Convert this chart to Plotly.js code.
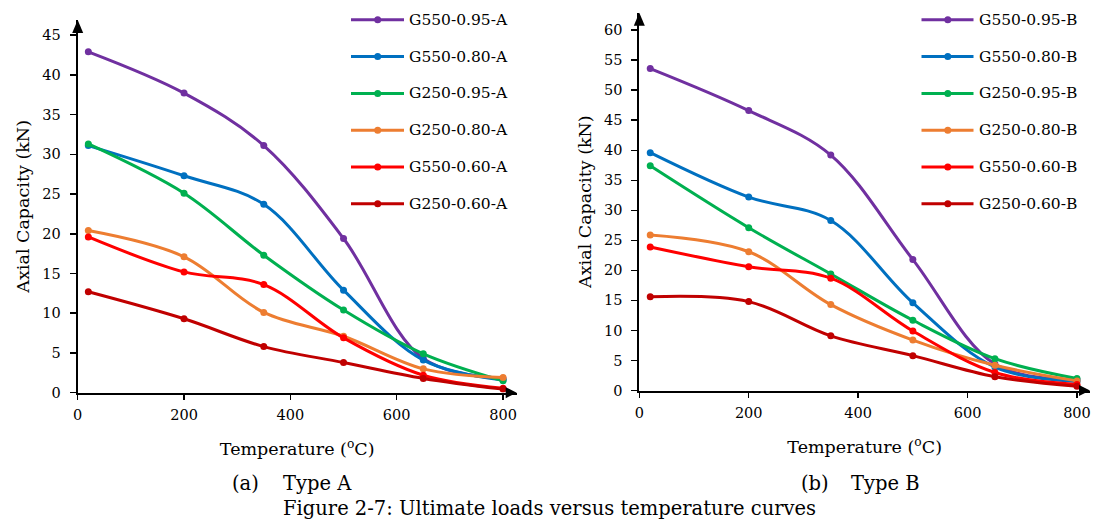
<!DOCTYPE html>
<html><head><meta charset="utf-8">
<script src="https://cdn.plot.ly/plotly-3.0.1.min.js"></script>
<style>html,body{margin:0;padding:0;background:#fff}#chart{width:1094px;height:522px}</style>
</head><body><div id="chart"></div>
<script>
// ---- data ----
const temperatures = [20, 200, 350, 500, 650, 800];

const namesA = ["G550-0.95-A", "G550-0.80-A", "G250-0.95-A", "G250-0.80-A", "G550-0.60-A", "G250-0.60-A"];
const G550_095_A = [42.9, 37.7, 31.1, 19.4, 4.3, 1.8];
const G550_080_A = [31.1, 27.3, 23.7, 12.9, 4.1, 1.6];
const G250_095_A = [31.3, 25.1, 17.3, 10.4, 4.9, 1.5];
const G250_080_A = [20.4, 17.1, 10.1, 7.1, 3.0, 1.9];
const G550_060_A = [19.6, 15.2, 13.6, 6.9, 2.2, 0.55];
const G250_060_A = [12.7, 9.3, 5.8, 3.8, 1.8, 0.45];

const namesB = ["G550-0.95-B", "G550-0.80-B", "G250-0.95-B", "G250-0.80-B", "G550-0.60-B", "G250-0.60-B"];
const G550_095_B = [53.6, 46.6, 39.2, 21.8, 4.4, 1.8];
const G550_080_B = [39.6, 32.2, 28.3, 14.6, 3.9, 1.5];
const G250_095_B = [37.4, 27.1, 19.4, 11.7, 5.3, 2.0];
const G250_080_B = [25.9, 23.1, 14.3, 8.4, 4.2, 1.6];
const G550_060_B = [23.9, 20.6, 18.7, 9.9, 3.0, 1.0];
const G250_060_B = [15.6, 14.8, 9.1, 5.8, 2.3, 0.7];

const seriesColors = ["#7030A0", "#0070C0", "#00B050", "#ED7D31", "#FF0000", "#C00000"];

const xTitle = "Temperature (<sup>o</sup>C)";
const yTitle = "Axial Capacity (kN)";
const captionA = ["(a)", "Type A"];
const captionB = ["(b)", "Type B"];
const figureCaption = "Figure 2-7: Ultimate loads versus temperature curves";

// ---- layout helpers ----
const W = 1094, H = 522;
const px = p => p / W;
const py = p => 1 - p / H;
const FONT = "DejaVu Serif";

const valuesA = [G550_095_A, G550_080_A, G250_095_A, G250_080_A, G550_060_A, G250_060_A];
const valuesB = [G550_095_B, G550_080_B, G250_095_B, G250_080_B, G550_060_B, G250_060_B];

const traces = [];
function addTraces(names, values, xa, ya) {
  names.forEach((n, i) => {
    traces.push({
      type: "scatter", mode: "lines+markers", name: n,
      x: temperatures, y: values[i], xaxis: xa, yaxis: ya,
      line: {color: seriesColors[i], width: 3, shape: "spline", smoothing: 1},
      marker: {color: seriesColors[i], size: 7},
      showlegend: false, hoverinfo: "skip"
    });
  });
}
addTraces(namesA, valuesA, "x", "y");
addTraces(namesB, valuesB, "x2", "y2");

const xdA = [px(77.7), px(516.7)], ydA = [py(392.7), py(20)];
const xdB = [px(639.3), px(1090)], ydB = [py(390.5), py(12.7)];

function xAxis(domain, range, anchor) {
  return {
    domain: domain, range: range, anchor: anchor,
    showline: true, linecolor: "#000", linewidth: 2,
    ticks: "outside", ticklen: 5, tickwidth: 1.5, tickcolor: "#000",
    tick0: 0, dtick: 200, showgrid: false, zeroline: false,
    tickfont: {family: FONT, size: 14.5, color: "#000"},
    ticklabelstandoff: 3,
    title: {text: xTitle, font: {family: FONT, size: 17.5, color: "#000"}, standoff: 21},
    fixedrange: true
  };
}
function yAxis(domain, range, anchor) {
  return {
    domain: domain, range: range, anchor: anchor,
    showline: true, linecolor: "#000", linewidth: 2,
    ticks: "outside", ticklen: 6, tickwidth: 1.5, tickcolor: "#000",
    tick0: 0, dtick: 5, showgrid: false, zeroline: false,
    tickfont: {family: FONT, size: 14.5, color: "#000"},
    ticklabelstandoff: 6,
    title: {text: yTitle, font: {family: FONT, size: 17.5, color: "#000"}, standoff: 8},
    fixedrange: true
  };
}

const shapes = [];
const annotations = [];
function arrows(xd, yd) {
  shapes.push({type: "path", xref: "paper", yref: "paper", xsizemode: "pixel", ysizemode: "pixel",
    xanchor: xd[1], yanchor: yd[0], path: "M0,0 L-11,5.5 L-11,-5.5 Z", fillcolor: "#000", line: {width: 0}});
  shapes.push({type: "path", xref: "paper", yref: "paper", xsizemode: "pixel", ysizemode: "pixel",
    xanchor: xd[0], yanchor: yd[1], path: "M0,0 L-5.5,-13 L5.5,-13 Z", fillcolor: "#000", line: {width: 0}});
}
arrows(xdA, ydA);
arrows(xdB, ydB);

function legend(names, x0, x1, xm, xt) {
  names.forEach((n, i) => {
    const yr = py(19.8 + 36.8 * i);
    shapes.push({type: "line", xref: "paper", yref: "paper", x0: px(x0), x1: px(x1), y0: yr, y1: yr,
      line: {color: seriesColors[i], width: 3}});
    shapes.push({type: "circle", xref: "paper", yref: "paper", xsizemode: "pixel", ysizemode: "pixel",
      xanchor: px(xm), yanchor: yr, x0: -3.5, x1: 3.5, y0: -3.5, y1: 3.5,
      fillcolor: seriesColors[i], line: {width: 0}});
    annotations.push({xref: "paper", yref: "paper", x: px(xt), y: yr, xanchor: "left", yanchor: "middle",
      text: n, showarrow: false, font: {family: FONT, size: 15.5, color: "#000"}});
  });
}
legend(namesA, 351, 404, 377.7, 407);
legend(namesB, 921.5, 973.5, 947.8, 977);

function cap(text, x, y) {
  annotations.push({xref: "paper", yref: "paper", x: px(x), y: py(y), xanchor: "left", yanchor: "middle",
    text: text, showarrow: false, font: {family: FONT, size: 19.5, color: "#000"}});
}
cap(captionA[0], 230, 483);
cap(captionA[1], 281, 483);
cap(captionB[0], 799, 483);
cap(captionB[1], 849, 483);
cap(figureCaption, 281, 508);

const layout = {
  width: W, height: H,
  margin: {l: 0, r: 0, t: 0, b: 0},
  paper_bgcolor: "#fff", plot_bgcolor: "#fff",
  font: {family: FONT, color: "#000"},
  showlegend: false,
  xaxis: xAxis(xdA, [0, 825.7], "y"),
  yaxis: yAxis(ydA, [0, 46.9], "x"),
  xaxis2: xAxis(xdB, [0, 823.8], "y2"),
  yaxis2: yAxis(ydB, [0, 62.9], "x2"),
  shapes: shapes,
  annotations: annotations
};

Plotly.newPlot("chart", traces, layout, {displayModeBar: false, staticPlot: true});
</script>
</body></html>
